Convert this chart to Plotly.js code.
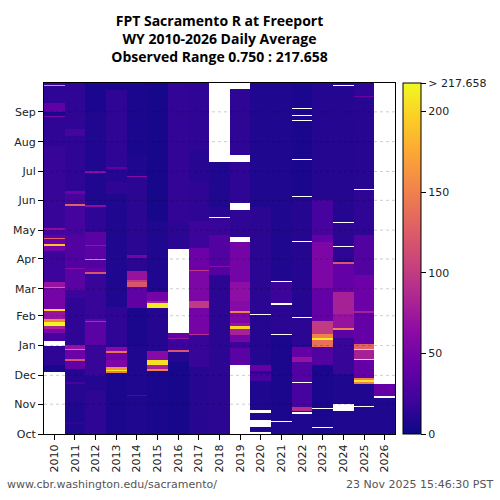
<!DOCTYPE html>
<html>
<head>
<meta charset="utf-8">
<script src="https://cdn.plot.ly/plotly-3.0.1.min.js"></script>
<style>
  html, body { margin: 0; padding: 0; background: #fff; }
  #plot { width: 500px; height: 500px; }
</style>
</head>
<body>
<div id="plot"></div>
<script>
// water years shown as columns
const years = [2010, 2011, 2012, 2013, 2014, 2015, 2016, 2017, 2018, 2019, 2020, 2021, 2022, 2023, 2024, 2025, 2026]

// month labels and the day of the water year each month starts on
const monthLabels = ['Oct', 'Nov', 'Dec', 'Jan', 'Feb', 'Mar', 'Apr', 'May', 'Jun', 'Jul', 'Aug', 'Sep']
const monthStarts = [0, 31, 61, 92, 123, 151, 182, 212, 243, 273, 304, 335]

// daily averages, as [first day of water year, value] runs
// (value holds until the next run starts, null = no data)
const wy2010 = [[0, null], [64, 5], [72, 14], [91, null], [97, 25], [105, 55], [109, 80], [112, 215], [116, 150], [120, 70], [128, 200], [130, 50], [152, 130], [153, 70], [158, 20], [190, 50], [196, 190], [198, 45], [203, 130], [204, 40], [207, 24], [212, 65], [214, 18], [299, 55], [300, 14], [330, 55], [331, 6], [335, 38], [344, 14], [362, 160], [363, 18]]
const wy2011 = [[0, 8], [10, 14], [12, 8], [33, 11], [52, 25], [54, 10], [68, 40], [76, 120], [78, 45], [87, 140], [88, 70], [93, 14], [141, 20], [150, 35], [169, 60], [170, 35], [172, 60], [173, 30], [207, 24], [237, 130], [239, 24], [250, 45], [253, 14], [310, 24], [317, 14]]
const wy2012 = [[0, 14], [45, 10], [60, 18], [93, 35], [116, 90], [117, 35], [120, 18], [166, 120], [168, 40], [173, 30], [181, 160], [182, 35], [196, 70], [197, 35], [210, 14], [236, 65], [238, 8], [271, 65], [273, 8], [335, 6]]
const wy2013 = [[0, 6], [60, 8], [63, 150], [65, 210], [67, 160], [70, 55], [77, 45], [84, 140], [86, 60], [90, 14], [132, 8], [250, 14], [262, 10], [276, 38], [278, 14], [358, 6]]
const wy2014 = [[0, 8], [40, 35], [41, 8], [91, 30], [92, 6], [131, 38], [153, 120], [158, 100], [160, 70], [169, 12], [183, 50], [186, 12], [267, 60], [268, 8], [290, 6]]
const wy2015 = [[0, 6], [66, 150], [68, 80], [72, 205], [77, 60], [86, 10], [131, 210], [136, 80], [138, 50], [148, 8], [222, 4]]
const wy2016 = [[0, 4], [75, 10], [85, 120], [87, 20], [99, 70], [100, 40], [105, null], [192, 12], [219, 16]]
const wy2017 = [[0, 11], [70, 18], [103, 90], [104, 50], [131, 100], [138, 55], [170, 100], [171, 45], [193, 20], [222, 14], [263, 11], [295, 14]]
const wy2018 = [[0, 12], [165, 30], [174, 60], [175, 30], [207, 18], [225, null], [226, 11], [236, 8], [283, null]]
const wy2019 = [[0, null], [72, 35], [89, 20], [96, 50], [103, 80], [109, 200], [112, 70], [115, 55], [126, 150], [128, 60], [138, 65], [158, 50], [200, null], [205, 14], [233, null], [240, 14], [283, null], [290, 14], [359, null]]
const wy2020 = [[0, null], [2, 8], [7, null], [15, 8], [22, null], [25, 8], [55, 25], [62, 12], [65, 40], [72, 10], [124, null], [125, 12], [236, 8]]
const wy2021 = [[0, 8], [12, null], [13, 6], [103, null], [104, 12], [134, null], [136, 20], [158, null], [159, 8]]
const wy2022 = [[0, 8], [21, null], [23, 8], [24, 90], [28, 25], [53, null], [54, 30], [75, 70], [80, 40], [90, 12], [121, null], [122, 10], [200, null], [201, 10], [246, null], [247, 6], [285, null], [286, 6], [326, null], [327, 6], [331, null], [332, 6], [338, null], [339, 6]]
const wy2023 = [[0, 6], [6, null], [7, 6], [26, null], [27, 6], [72, 30], [90, 140], [98, 210], [100, 150], [104, 100], [117, 40], [152, 55], [200, 40], [207, 25], [243, 10]]
const wy2024 = [[0, 8], [24, null], [31, 8], [62, 18], [100, 35], [108, 150], [110, 70], [125, 80], [148, 40], [177, 120], [179, 4], [181, 14], [194, null], [195, 12], [219, null], [220, 10], [362, null], [363, 10]]
const wy2025 = [[0, 8], [28, null], [29, 8], [52, 150], [54, 210], [56, 150], [58, 40], [77, 210], [78, 80], [87, 210], [88, 130], [94, 40], [126, 80], [128, 45], [165, 30], [207, 14], [254, null], [255, 11], [350, 45], [351, 14]]
const wy2026 = [[0, 8], [37, null], [40, 40], [52, null]]

const runs = [wy2010, wy2011, wy2012, wy2013, wy2014, wy2015, wy2016, wy2017, wy2018, wy2019, wy2020, wy2021, wy2022, wy2023, wy2024, wy2025, wy2026]

const obsMin = 0.750
const obsMax = 217.658
const nDays = 365

// turn runs into one value per day
function expand(segs) {
    const col = new Array(nDays).fill(null)
    for (let k = 0; k < segs.length; k++) {
        const start = segs[k][0]
        const end = k + 1 < segs.length ? segs[k + 1][0] : nDays
        for (let d = start; d < end; d++) col[d] = segs[k][1]
    }
    return col
}

const cols = runs.map(expand)
const days = []
for (let d = 0; d < nDays; d++) days.push(d + 0.5)
const z = days.map(function (_, d) {
    return cols.map(function (c) { return c[d] })
})

const plasma = [
    [0.0, '#0d0887'], [0.1, '#41049d'], [0.2, '#6a00a8'], [0.3, '#8f0da4'],
    [0.4, '#b12a90'], [0.5, '#cc4778'], [0.6, '#e16462'], [0.7, '#f2844b'],
    [0.8, '#fca636'], [0.9, '#fcce25'], [1.0, '#f0f921']
]

const trace = {
    type: 'heatmap',
    x: years,
    y: days,
    z: z,
    zmin: 0,
    zmax: obsMax,
    colorscale: plasma,
    hoverongaps: false,
    colorbar: {
        thickness: 18,
        len: 1,
        lenmode: 'fraction',
        x: 1.023,
        xanchor: 'left',
        xpad: 0,
        y: 0.5,
        ypad: 0,
        outlinecolor: '#000',
        outlinewidth: 1,
        ticks: 'outside',
        ticklen: 5,
        tickcolor: '#000',
        tickvals: [0, 50, 100, 150, 200, obsMax],
        ticktext: ['0', '50', '100', '150', '200', '> ' + obsMax.toFixed(3)],
        tickfont: { family: 'DejaVu Sans', size: 11, color: '#222' }
    }
}

// dotted month lines drawn over the cells
const gridShapes = monthStarts.slice(1).map(function (m) {
    return {
        type: 'line', xref: 'paper', yref: 'y', x0: 0, x1: 1, y0: m, y1: m,
        layer: 'above',
        line: { color: 'rgba(0,0,0,0.2)', width: 1, dash: 'dot' }
    }
})

const layout = {
    width: 500,
    height: 500,
    margin: { l: 44, r: 105, t: 83, b: 66 },
    paper_bgcolor: '#fff',
    plot_bgcolor: '#fff',
    font: { family: 'DejaVu Sans', size: 11, color: '#222' },
    title: {
        text: '<b>FPT Sacramento R at Freeport<br>WY ' + years[0] + '-' + years[years.length - 1] +
            ' Daily Average<br>Observed Range ' + obsMin.toFixed(3) + ' : ' + obsMax.toFixed(3) + '</b>',
        font: { family: 'Open Sans', size: 14, color: '#000' },
        x: 0.439,
        xanchor: 'center',
        yref: 'container',
        y: 0.948,
        yanchor: 'middle'
    },
    xaxis: {
        range: [years[0] - 0.5, years[years.length - 1] + 0.5],
        tickvals: years,
        ticktext: years.map(String),
        tickangle: -90,
        ticks: 'outside',
        ticklen: 5,
        tickcolor: '#000',
        showgrid: false,
        zeroline: false,
        showline: true,
        linecolor: '#000',
        linewidth: 1,
        mirror: true
    },
    yaxis: {
        range: [0, nDays],
        tickvals: monthStarts,
        ticktext: monthLabels,
        ticks: 'outside',
        ticklen: 5,
        tickcolor: '#000',
        showgrid: false,
        zeroline: false,
        showline: true,
        linecolor: '#000',
        linewidth: 1,
        mirror: true
    },
    shapes: gridShapes,
    annotations: [
        {
            text: 'www.cbr.washington.edu/sacramento/',
            xref: 'paper', yref: 'paper', x: -0.111, y: -0.145,
            xanchor: 'left', yanchor: 'middle', showarrow: false,
            font: { family: 'DejaVu Sans', size: 11, color: '#555' }
        },
        {
            text: '23 Nov 2025 15:46:30 PST',
            xref: 'paper', yref: 'paper', x: 1.285, y: -0.145,
            xanchor: 'right', yanchor: 'middle', showarrow: false,
            font: { family: 'DejaVu Sans', size: 11, color: '#555' }
        }
    ]
}

Plotly.newPlot('plot', [trace], layout, { displayModeBar: false, staticPlot: true })
</script>
</body>
</html>
